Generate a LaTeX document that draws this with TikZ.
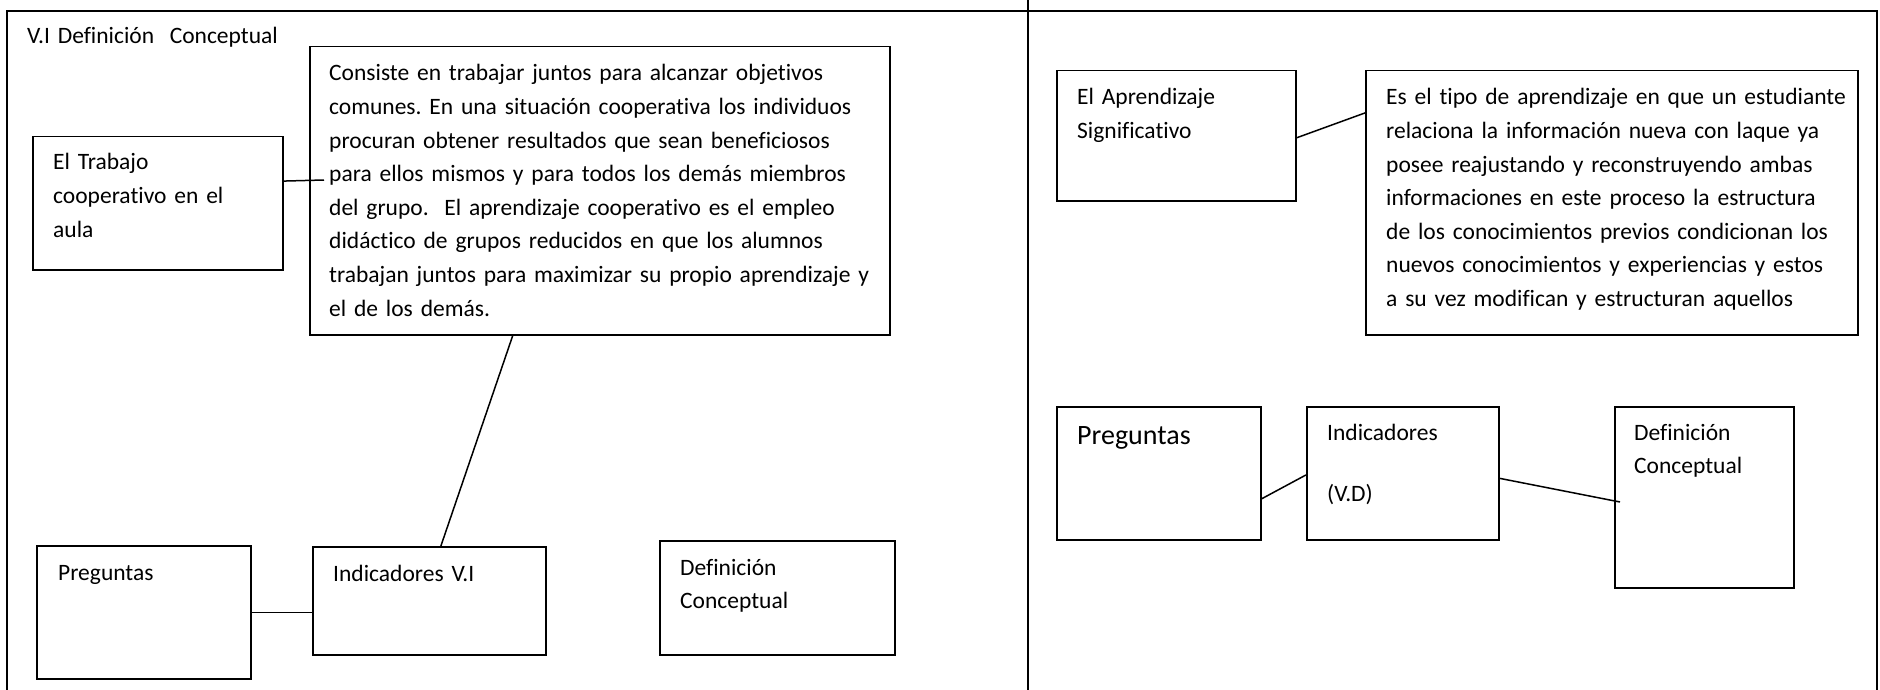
\documentclass[tikz,border=0pt]{standalone}
\usepackage{fontspec}
\setmainfont{Carlito}[Ligatures={NoCommon}]
\usepackage{tikz}
\tikzstyle{caja} = [draw, rectangle, anchor=north west, inner sep=0pt, line width=1.5pt]
\tikzstyle{texto} = [anchor=base west, inner sep=0pt, text width=560pt, align=left,
font=\fontsize{23.5}{33.6}\selectfont]
\tikzstyle{conector} = [line width=1.5pt]
\frenchspacing

\begin{document}
\begin{tikzpicture}[x=1pt, y=-1pt]
		\useasboundingbox (0,0) rectangle (1880,690);
		% marco
		\draw [conector] (7,690) -- (7,11) -- (1877,11) -- (1877,690);
		\draw [conector] (1028,0) -- (1028,690);
		% V.I
		\node (titulo) [texto] at (27,44) {V.I Definición~ Conceptual};
		\node (concepto) [caja, minimum width=580pt, minimum height=288pt] at (309,46) {};
		\node (txt_concepto) [texto, xshift=20pt, yshift=-35pt] at (concepto.north west) {Consiste en trabajar juntos para alcanzar objetivos\\
		comunes. En una situación cooperativa los individuos\\
		procuran obtener resultados que sean beneficiosos\\
		para ellos mismos y para todos los demás miembros\\
		del grupo.~ El aprendizaje cooperativo es el empleo\\
		didáctico de grupos reducidos en que los alumnos\\
		trabajan juntos para maximizar su propio aprendizaje y\\
		el de los demás.};
		\node (trabajo) [caja, minimum width=250pt, minimum height=133pt] at (32,136) {};
		\node (txt_trabajo) [texto, xshift=21pt, yshift=-34pt] at (trabajo.north west) {El Trabajo\\
		cooperativo en el\\
		aula};
		\node (preg_vi) [caja, minimum width=214pt, minimum height=133pt] at (36,545) {};
		\node (txt_preg_vi) [texto, xshift=22pt, yshift=-35pt] at (preg_vi.north west) {Preguntas};
		\node (ind_vi) [caja, minimum width=233pt, minimum height=108pt] at (312,546) {};
		\node (txt_ind_vi) [texto, xshift=21pt, yshift=-35pt] at (ind_vi.north west) {Indicadores V.I};
		\node (def_vi) [caja, minimum width=235pt, minimum height=114pt] at (659,540) {};
		\node (txt_def_vi) [texto, xshift=21pt, yshift=-35pt] at (def_vi.north west) {Definición\\
		Conceptual};
		\coordinate (c_concepto) at (324,180);
		\draw [conector] (trabajo.10) -- (c_concepto);
		\draw [conector] (concepto.239.4) -- (ind_vi.78);
		\draw [conector] (preg_vi.east) -- (preg_vi.east -| ind_vi.west);
		% V.D
		\node (aprendizaje) [caja, minimum width=239pt, minimum height=130pt] at (1056,70) {};
		\node (txt_aprendizaje) [texto, xshift=21pt, yshift=-35pt] at (aprendizaje.north west) {El Aprendizaje\\
		Significativo};
		\node (significado) [caja, minimum width=492pt, minimum height=264pt] at (1365,70) {};
		\node (txt_significado) [texto, xshift=21pt, yshift=-35pt] at (significado.north west) {Es el tipo de aprendizaje en que un estudiante\\
		relaciona la información nueva con laque ya\\
		posee reajustando y reconstruyendo ambas\\
		informaciones en este proceso la estructura\\
		de los conocimientos previos condicionan los\\
		nuevos conocimientos y experiencias y estos\\
		a su vez modifican y estructuran aquellos};
		\node (preg_vd) [caja, minimum width=204pt, minimum height=133pt] at (1056,406) {};
		\node (txt_preg_vd) [texto, xshift=21pt, yshift=-38pt, font=\fontsize{28}{34}\selectfont] at (preg_vd.north west) {Preguntas};
		\node (ind_vd) [caja, minimum width=192pt, minimum height=133pt] at (1306,406) {};
		\node (txt_ind_vd) [texto, xshift=21pt, yshift=-34pt] at (ind_vd.north west) {Indicadores\\[27.4pt]
		(V.D)};
		\node (def_vd) [caja, minimum width=179pt, minimum height=181pt] at (1614,406) {};
		\node (txt_def_vd) [texto, xshift=20pt, yshift=-34pt] at (def_vd.north west) {Definición\\
		Conceptual};
		\coordinate (c_def_vd) at (1620,502);
		\draw [conector] (aprendizaje.-1.5) -- (significado.160.5);
		\draw [conector] (preg_vd.-14.6) -- (ind_vd.181.5);
		\draw [conector] (ind_vd.-3.3) -- (c_def_vd);
	\end{tikzpicture}
\end{document}
